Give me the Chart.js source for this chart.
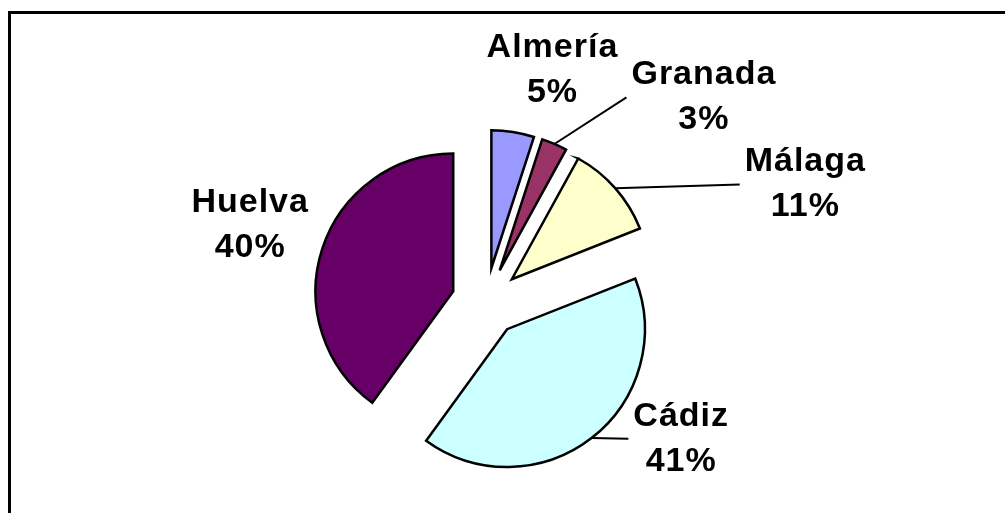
<!DOCTYPE html>
<html lang="es">
<head>
<meta charset="utf-8">
<title>Distribución por provincias</title>
<script src="https://cdn.jsdelivr.net/npm/chart.js@4.4.1/dist/chart.umd.min.js"></script>
<style>
    html, body { margin: 0; padding: 0; background: #fff; overflow: hidden; }
    #wrap { position: relative; width: 1005px; height: 513px; }
    #marco {
        position: absolute; left: 8px; top: 11px; right: -10px; bottom: -10px;
        border-left: 3px solid #000; border-top: 3px solid #000;
        pointer-events: none;
    }
</style>
</head>
<body>
<div id="wrap">
    <canvas id="grafica" width="1005" height="513"></canvas>
    <div id="marco"></div>
</div>
<script>
// Datos
const provincias = ['Almería', 'Granada', 'Málaga', 'Cádiz', 'Huelva'];
const porcentajes = [5, 3, 11, 41, 40];
const colores = ['#9999FF', '#993366', '#FFFFCC', '#CCFFFF', '#660066'];

// Posición de las etiquetas (ángulo desde arriba en grados, distancia en radios)
const etiquetaAngulo = [16, 46.8, 69.8, 125, 288];
const etiquetaDist = [1.75, 2.17, 2.47, 1.73, 1.80];
const conLinea = [false, true, true, true, false];

const SEPARACION = 0.25;   // porciones separadas (fracción del radio)
const FUENTE = 'bold 34px "Liberation Sans", Arial, sans-serif';
const INTERLINEA = 45;

// Separar las porciones del centro
const explotar = {
    id: 'explotar',
    afterUpdate(chart) {
        const meta = chart.getDatasetMeta(0);
        meta.data.forEach(arc => {
            const mid = (arc.startAngle + arc.endAngle) / 2;
            const d = arc.outerRadius * SEPARACION;
            arc.x += Math.cos(mid) * d;
            arc.y += Math.sin(mid) * d;
        });
    }
};

// Etiquetas con nombre y porcentaje
const etiquetas = {
    id: 'etiquetas',
    afterDraw(chart) {
        const ctx = chart.ctx;
        const area = chart.chartArea;
        const cx = (area.left + area.right) / 2;
        const cy = (area.top + area.bottom) / 2;
        const meta = chart.getDatasetMeta(0);
        const total = porcentajes.reduce((a, b) => a + b, 0);

        ctx.save();
        ctx.font = FUENTE;
        ctx.letterSpacing = '1px';
        ctx.fillStyle = '#000';
        ctx.strokeStyle = '#000';
        ctx.lineWidth = 2;
        ctx.textAlign = 'center';
        ctx.textBaseline = 'middle';

        meta.data.forEach((arc, i) => {
            const r = arc.outerRadius;
            const a = etiquetaAngulo[i] * Math.PI / 180;
            const lx = cx + Math.sin(a) * r * etiquetaDist[i];
            const ly = cy - Math.cos(a) * r * etiquetaDist[i];
            const texto = [provincias[i], Math.round(porcentajes[i] / total * 100) + '%'];

            if (conLinea[i]) {
                const mid = (arc.startAngle + arc.endAngle) / 2;
                const ancho = Math.max(...texto.map(t => ctx.measureText(t).width));
                ctx.beginPath();
                ctx.moveTo(arc.x + Math.cos(mid) * r, arc.y + Math.sin(mid) * r);
                ctx.lineTo(lx - ancho / 2 - 5, ly);
                ctx.stroke();
            }

            ctx.fillText(texto[0], lx, ly - INTERLINEA / 2);
            ctx.fillText(texto[1], lx, ly + INTERLINEA / 2);
        });
        ctx.restore();
    }
};

new Chart(document.getElementById('grafica'), {
    type: 'pie',
    data: {
        labels: provincias,
        datasets: [{
            data: porcentajes,
            backgroundColor: colores,
            borderColor: '#000',
            borderWidth: 2.5,
            hoverBorderWidth: 2.5,
            borderJoinStyle: 'miter',
            offset: 0,
            hoverOffset: 0
        }]
    },
    options: {
        responsive: false,
        animation: false,
        events: [],
        layout: {
            padding: { top: 163, bottom: 72, left: 300, right: 333 }
        },
        plugins: {
            legend: { display: false },
            tooltip: { enabled: false },
            title: { display: false }
        }
    },
    plugins: [explotar, etiquetas]
});
</script>
</body>
</html>
